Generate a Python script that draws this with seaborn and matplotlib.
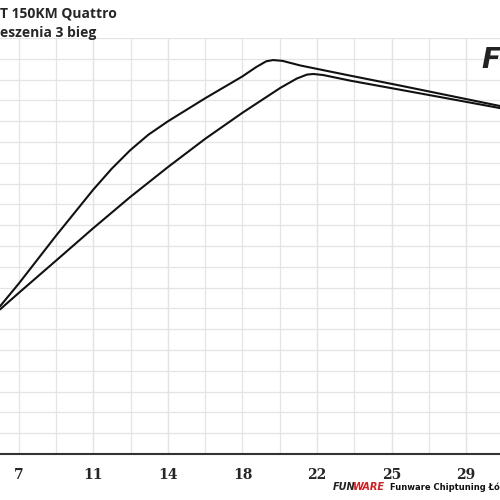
import numpy as np
import pandas as pd
import matplotlib.pyplot as plt
import seaborn as sns

# krzywe (jednostki osi: predkosc / skala siatki)
x_gorna = [6.40, 7.33, 9.16, 10.98, 11.9, 12.80, 13.7, 14.67, 16.49, 18.32, 19.0, 19.5, 19.84, 20.3, 21.17, 23.63, 26.10, 28.56, 31.0]
y_gorna = [7.10, 8.20, 10.50, 12.70, 13.72, 14.60, 15.35, 16.00, 17.10, 18.15, 18.60, 18.88, 18.94, 18.90, 18.68, 18.19, 17.71, 17.22, 16.73]
x_dolna = [6.40, 7.33, 9.16, 10.98, 12.80, 14.67, 16.49, 18.32, 20.19, 21.0, 21.5, 21.81, 22.3, 23.63, 26.10, 28.56, 31.0]
y_dolna = [6.95, 7.75, 9.30, 10.85, 12.35, 13.80, 15.15, 16.40, 17.60, 18.05, 18.24, 18.27, 18.22, 17.95, 17.51, 17.07, 16.63]
tick_pos = [7.33, 11.0, 14.67, 18.33, 22.0, 25.67, 29.33]
tick_lab = ["7", "11", "14", "18", "22", "25", "29"]

sns.set_style("white")
fig = plt.figure(figsize=(5, 5), dpi=100)
ax = fig.add_axes([0, 0.092, 1, 0.832])

df = pd.concat([
    pd.DataFrame({"x": x_gorna, "y": y_gorna, "s": "a"}),
    pd.DataFrame({"x": x_dolna, "y": y_dolna, "s": "b"}),
])
sns.lineplot(data=df, x="x", y="y", units="s", estimator=None, sort=False,
             color="#111111", lw=1.5, ax=ax, legend=False)

ax.set_xlim(6.4, 31.0)
ax.set_ylim(0, 20)
minor = np.arange(7.33, 31, 1.8333)
ax.set_xticks(minor, minor=True)
ax.set_xticks(tick_pos)
ax.set_xticklabels(tick_lab, family="DejaVu Serif", fontweight="bold", fontsize=10)
ax.set_yticks(np.arange(0, 21, 1))
ax.set_yticklabels([])
ax.grid(True, which="both", color="#e4e4e4", lw=0.9)
ax.tick_params(axis="x", which="both", direction="out", length=4, width=1, color="#333333", pad=6)
ax.tick_params(axis="y", length=0)
for s in ["top", "right", "left"]:
    ax.spines[s].set_visible(False)
ax.spines["bottom"].set_color("#333333")
ax.spines["bottom"].set_linewidth(1.5)
ax.set_xlabel("")
ax.set_ylabel("")

fig.text(0.0, 0.972, "T 150KM Quattro", fontsize=10, fontweight="bold", family="Open Sans", va="center")
fig.text(0.0, 0.935, "eszenia 3 bieg", fontsize=10, fontweight="bold", family="Open Sans", va="center")
fig.text(0.962, 0.88, "F", fontsize=20, fontweight="bold", style="italic", color="#222222", va="center")
fig.text(0.665, 0.026, "FUN", fontsize=7, fontweight="bold", style="italic", color="#222222", va="center")
fig.text(0.706, 0.026, "WARE", fontsize=7, fontweight="bold", style="italic", color="#cc1f1f", va="center")
fig.text(0.78, 0.026, "Funware Chiptuning Łód", fontsize=6, fontweight="bold", color="#111111", va="center")

fig.savefig("out.png", dpi=100)
